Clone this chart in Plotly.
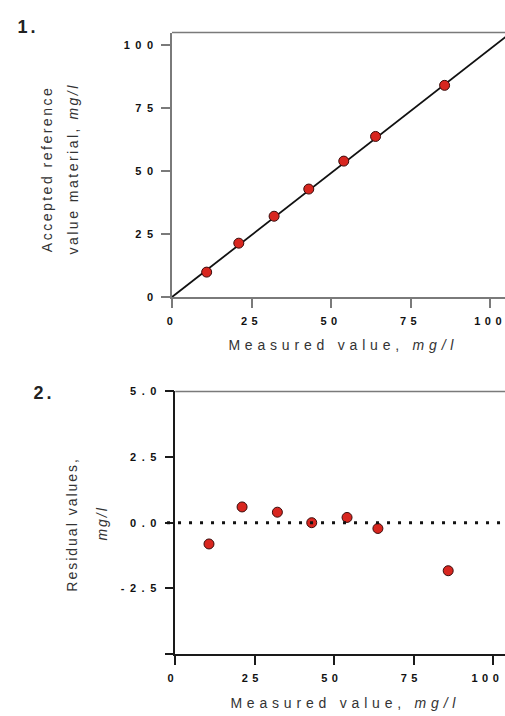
import plotly.graph_objects as go

# ---------------- data ----------------
measured = [10.9, 21.0, 32.1, 43.0, 54.0, 64.0, 85.7]
accepted = [9.9, 21.4, 32.1, 42.9, 54.0, 63.8, 84.1]
resid_x = [10.6, 21.0, 32.1, 42.9, 54.0, 63.7, 85.8]
residuals = [-0.81, 0.60, 0.40, 0.00, 0.20, -0.22, -1.83]
fit_slope = 0.985
fit_intercept = 0.0
fit_x = [0, 110]
fit_y = [fit_intercept + fit_slope * v for v in fit_x]

x_ticks = [0, 25, 50, 75, 100]
x_ticktext = ["0", "25", "50", "75", "100"]
y1_ticks = [0, 25, 50, 75, 100]
y1_ticktext = ["0", "25", "50", "75", "100"]
y2_ticks = [5.0, 2.5, 0.0, -2.5, -5.0]
y2_ticktext = ["5.0", "2.5", "0.0", "-2.5", ""]

W, H = 505, 716
FONT = "Liberation Sans, Arial, sans-serif"
GRAY = "#7a7a7a"
DARK = "#1a1a1a"
RED = "#d8261f"
EDGE = "#3a0c0c"


def px(x):
    return x / W


def py(y):
    return 1 - y / H


fig = go.Figure()

fig.add_trace(go.Scatter(x=fit_x, y=fit_y, mode="lines",
                         line=dict(color="#111111", width=1.8),
                         xaxis="x", yaxis="y", showlegend=False, hoverinfo="skip"))
fig.add_trace(go.Scatter(x=measured, y=accepted, mode="markers",
                         marker=dict(color=RED, size=10, line=dict(color=EDGE, width=1)),
                         xaxis="x", yaxis="y", showlegend=False))
fig.add_trace(go.Scatter(x=resid_x, y=residuals, mode="markers",
                         marker=dict(color=RED, size=10, line=dict(color=EDGE, width=1)),
                         xaxis="x2", yaxis="y2", showlegend=False))

tickfont = dict(family=FONT, size=11, color="#111111", weight="bold")

axis_common = dict(ticks="outside", ticklen=9, tickwidth=1.5, showgrid=False,
                   zeroline=False, showline=True, linewidth=1.5, tickfont=tickfont,
                   fixedrange=True)

fig.update_layout(
    width=W, height=H, autosize=False,
    margin=dict(l=0, r=0, t=0, b=0),
    paper_bgcolor="white", plot_bgcolor="white",
    xaxis=dict(domain=[px(170), 1], range=[0, 335 / 3.2], tickvals=x_ticks,
               ticktext=x_ticktext, anchor="y", linecolor=GRAY, tickcolor=GRAY,
               ticklabelstandoff=4, **axis_common),
    yaxis=dict(domain=[py(296), py(27)], range=[0, 269 / 2.56], tickvals=y1_ticks,
               ticktext=y1_ticktext, anchor="x", linecolor=GRAY, tickcolor=GRAY,
               ticklabelstandoff=6, **axis_common),
    xaxis2=dict(domain=[px(173.3), 1], range=[0, (W - 173.3) / 3.2], tickvals=x_ticks,
                ticktext=x_ticktext, anchor="y2", linecolor=DARK, tickcolor=DARK,
                ticklabelstandoff=4, **axis_common),
    yaxis2=dict(domain=[py(659), py(392)], range=[-5.0, 5.0], tickvals=y2_ticks,
                ticktext=y2_ticktext, anchor="x2", linecolor=DARK, tickcolor=DARK,
                ticklabelstandoff=6, **axis_common),
)

# frame tops and zero reference line
fig.add_shape(type="line", xref="x domain", yref="y domain", x0=0, x1=1, y0=1, y1=1,
              line=dict(color=GRAY, width=1.5))
fig.add_shape(type="line", xref="x2 domain", yref="y2 domain", x0=0, x1=1, y0=1, y1=1,
              line=dict(color=GRAY, width=1.5))
fig.add_shape(type="line", xref="x2 domain", yref="y2", x0=-0.025, x1=1, y0=0, y1=0,
              line=dict(color="#111111", width=3, dash="3px,8px"))

title_font = dict(family=FONT, size=14, color="#333333")
annots = [
    # (text, x_px, y_px, angle, font, letter spacing)
    ("1.", 24, 21, 0, dict(family=FONT, size=18, color="#222222", weight="bold"), 3),
    ("2.", 40, 394, 0, dict(family=FONT, size=18, color="#222222", weight="bold"), 3),
    ("Accepted reference", 44, 167, -90, title_font, 2.5),
    ("value material, <i>mg/l</i>", 71, 167, -90, title_font, 2.5),
    ("Measured value, <i>mg/l</i>", 341, 345, 0, title_font, 4.8),
    ("Residual values,", 70, 528, -90, title_font, 2.0),
    ("<i>mg/l</i>", 100, 527, -90, title_font, 2.0),
    ("Measured value, <i>mg/l</i>", 343, 709, 0, title_font, 4.8),
]
spacings = []
for text, x, y, ang, f, sp in annots:
    fig.add_annotation(text=text, x=px(x), y=py(y), xref="paper", yref="paper",
                       xanchor="center", yanchor="middle", textangle=ang,
                       showarrow=False, font=f)
    spacings.append(sp)

post = """
document.documentElement.style.margin = '0';
document.documentElement.style.padding = '0';
document.documentElement.style.overflow = 'hidden';
document.body.style.margin = '0';
document.body.style.padding = '0';
document.body.style.overflow = 'hidden';
var gd = document.getElementById('{plot_id}');
var sp = %s;
var TSX = 4.5, TSY = 5.5;
function ls(){
  gd.querySelectorAll('.xtick text').forEach(function(t){
    t.style.letterSpacing = TSX + 'px'; t.setAttribute('dx', 0);
  });
  gd.querySelectorAll('.x2tick text').forEach(function(t){
    t.style.letterSpacing = TSX + 'px';
    t.setAttribute('dx', t.textContent.length > 2 ? -6 : -2.5);
  });
  gd.querySelectorAll('.ytick text, .y2tick text').forEach(function(t){
    t.style.letterSpacing = TSY + 'px'; t.setAttribute('dx', TSY);
  });
  gd.querySelectorAll('g.annotation').forEach(function(g){
    var i = parseInt(g.getAttribute('data-index'));
    var t = g.querySelector('text');
    if (t && !isNaN(i)) {
      t.style.letterSpacing = sp[i] + 'px';
      t.setAttribute('dx', sp[i] / 2);
    }
  });
}
ls();
gd.on('plotly_afterplot', ls);
""" % (str(spacings))

fig.write_html("out.html", post_script=post, config={"displayModeBar": False})
